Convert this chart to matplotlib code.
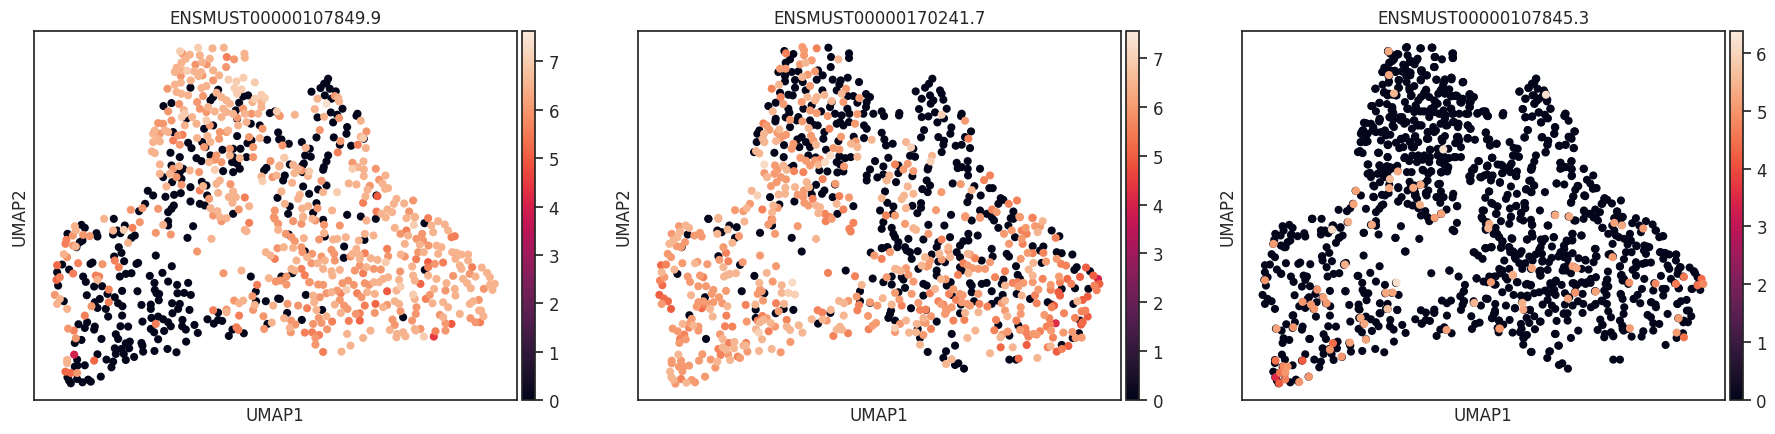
#!/usr/bin/env python3
"""UMAP feature plots for three transcripts (scanpy look)."""
import numpy as np
import matplotlib
matplotlib.use('Agg')
import matplotlib.pyplot as plt
import seaborn as sns

plt.rcParams['font.family'] = ['DejaVu Sans']
plt.rcParams['text.color'] = '.15'
plt.rcParams['axes.labelcolor'] = '.15'
plt.rcParams['axes.edgecolor'] = '.15'
plt.rcParams['xtick.color'] = '.15'
plt.rcParams['ytick.color'] = '.15'

TITLES = ['ENSMUST00000107849.9', 'ENSMUST00000170241.7', 'ENSMUST00000107845.3']
VMAX = [7.63, 7.55, 6.38]
CBAR_TICKS = [range(8), range(8), range(7)]

# embedding units, y axis runs downwards
# (umap1, umap2, expression) for expressing cells, (umap1, umap2) for zero cells
P1_ON_UPPER = [
 (439,158,7),(493,147,7),(536,149,6.5),(570,147,6.5),(632,165,6.5),(633,177,6.5),(579,175,5.6),(601,182,6),(577,205,6),
 (468,168,6.5),(446,165,6),(498,170,6.5),(456,180,6.5),(443,192,6.5),(428,207,6.5),(423,220,6.5),(505,190,6.5),(528,180,6.5),
 (519,197,6),(485,198,6),(446,215,6.5),(460,216,7),(481,218,6.5),(502,220,6.5),(538,215,6.5),(556,230,6.5),(538,245,6),
 (441,232,6),(506,230,6),(494,232,6.5),(471,245,6.5),(441,252,6.5),(423,258,6.5),(401,270,6),(428,280,6.5),(518,262,6.5),
 (503,268,6.5),(584,243,7),(608,248,7),(629,237,7),(663,251,7),(602,268,7),(623,272,7),(610,285,7),(683,288,7),(663,300,7),
 (693,298,7),(683,310,6.5),(683,325,6.5),(656,310,6.5),(443,285,6.5),(463,290,6.5),(508,292,6),(548,282,6.5),(563,295,6.5),
 (578,305,6.5),(588,315,6.5),(568,330,6.5),(578,340,6.5),(563,355,6.5),(543,338,6.5),(490,310,6),(498,330,6),(523,325,6.5),
 (518,340,6),(436,316,6),(450,334,6.5),(403,338,6),(444,355,7),(453,345,7),(475,355,6.5),(488,375,6.5),(413,365,6),(453,380,6.5),
 (518,365,7),(528,380,6),(598,345,6.5),(633,345,6.5),(653,345,6),(673,345,6.5),(736,350,6),(729,338,7),(628,330,6),(638,370,6.5),
 (613,380,6.5),(610,357,6),(558,400,6),(578,400,6),(388,375,6),(373,373,6),(363,395,6.5),(358,405,6.5),(393,395,6.5),(378,405,6),
 (403,400,6.5),(373,420,6.5),(358,430,6.5),(378,428,6.5),(418,425,5.6),(433,410,6),(446,408,5.6),(438,438,6),(490,418,6.5),
 (521,412,6.5),(530,430,6.5),(556,420,6),(646,415,6),(678,418,6.5),(686,390,6),(583,395,6.5),(588,450,6),(588,470,6.5),(618,478,6.5),
 (658,445,6),(658,475,6),(354,458,6.5),(363,463,6.5),(511,445,6),(378,497,6.5),(436,502,6.5),(418,510,6),(526,490,6.5),(543,483,6),
 (563,490,6),(543,513,7),(548,470,6),(751,477,7),(710,487,6),(736,503,6.5),(728,530,6.5),(716,535,6),(683,533,6.5),(686,547,7),
 (378,525,6.5),(408,525,6.5),(428,535,6),(496,520,6),(468,515,6.5),(398,563,6.5),(443,558,6),(558,545,6.5),(548,555,6.5),(590,556,6),
 (508,562,6.5),(498,575,5.6),(553,582,6.5),(598,578,6.5),(633,596,5.6),(526,600,6),(585,595,6.5),(606,595,6.5),(596,612,6.5),
 (646,622,6.5),(615,632,6),(551,637,6.5),(530,628,6.5),(291,633,6),(326,628,6),(373,630,6),(723,635,6),(538,650,6),(558,655,6.5),
]
P1_ON_RIGHT = [
 (851,300,6.5),(913,297,6.5),(903,292,6),(916,308,6.5),(843,331,6.5),(878,315,7.4),(871,354,6.5),(783,348,6.5),(738,352,6),(916,358,6),
 (981,366,6.5),(858,394,6),(998,398,6),(981,414,6.5),(988,418,7),(920,427,6),(996,448,6.5),(972,438,5.6),(912,461,5.6),(746,440,6),
 (816,447,6.5),(752,477,7),(738,500,6.5),(778,498,6.5),(793,510,6.5),(803,515,6),(782,523,6.5),(826,518,7),(823,532,6.5),(956,492,6),
 (972,505,6.5),(956,510,7),(989,488,6.5),(990,512,6.5),(990,532,6.5),(1026,510,6),(1055,530,6.5),(1036,543,6),(1046,554,6.5),
 (945,554,6.5),(968,557,6.5),(1008,561,6),(1001,573,6.5),(1054,570,6.5),(1063,568,6.5),(995,593,6.5),(775,552,6.5),(863,546,6),
 (868,580,6.5),(910,580,7),(743,578,6.5),(798,588,6.5),(793,600,6.5),(1031,592,5),(988,612,5.6),(1088,600,6.5),(1080,615,6.5),
 (1111,614,6.5),(1138,605,6),(753,615,6.5),(823,622,6.5),(805,629,6.5),(851,628,6),(895,635,6.5),(1061,632,6.5),(1075,640,6.5),
 (1126,638,6),(1028,638,5.6),(1043,645,6.5),(808,653,6.5),(1056,656,6.5),(1118,658,6.5),(1143,654,6.5),(1183,658,5.6),(998,665,6.5),
]
P1_ON_LOWER_RIGHT = [
 (1213,667,6.5),(1233,677,6.5),(1243,695,6.5),(778,667,6),(808,655,6.5),(836,660,6.5),(845,665,6),(871,678,6),(918,680,6),(803,675,6),
 (756,705,6),(773,715,6),(783,727,6),(810,718,6.5),(856,722,6),(871,703,6.5),(898,722,6.5),(910,720,6.5),(936,715,6.5),(975,725,6.5),
 (993,705,6.5),(1019,710,6.5),(1083,687,6.5),(1100,705,6),(1118,695,5.6),(1123,710,6.5),(1113,735,6.5),(1140,678,7),(1143,655,6),
 (1165,705,6),(1148,720,6),(1168,725,6),(1158,737,6.5),(1153,760,6),(1170,760,6.5),(1184,740,6),(1208,740,6.5),(1223,745,6.5),
 (1213,765,6.5),(1253,715,5.6),(1263,712,5.6),(1193,680,6.5),(1198,700,6.5),(1255,760,6.5),(1268,762,6.5),(1283,767,6.5),(1303,767,6.5),
 (1265,780,6.5),(1278,800,6.5),(1283,810,6.5),(1303,785,6.5),(1315,805,5.6),(1308,825,6),(1325,833,6.5),(1344,806,6.5),(1360,822,6.5),
 (1368,835,6.5),(1383,855,6.5),(1368,858,6.5),(1376,873,6.5),(1350,870,6),(1288,840,6.5),(1300,853,6.5),(1311,868,6.5),(1258,831,6),
 (1238,853,6.5),(1263,870,6.5),(1265,890,6.5),(1235,875,6),(1208,840,6.5),(1201,870,6.5),(1188,888,6),(1176,900,5.6),(1143,900,6.5),
 (1138,887,7),(1148,925,6),(1146,945,6),(1196,913,6.5),(1228,910,6.5),(1243,925,6.5),(1308,915,6.5),(1318,907,6.5),(1335,903,6),
 (1336,935,6.5),(1342,935,6.5),(1349,952,6.5),(1310,958,6),(1278,945,6.5),(1325,970,6),(1339,970,5.6),(1218,948,6),(1228,955,6.5),
 (1235,973,6),(1253,975,5),(1235,995,6),(1205,997,5.6),(1200,1013,4.5),(1170,1013,7),(1160,990,6),(1143,990,6.5),(1135,965,6),
 (1146,995,6.5),(1108,1000,6.5),(1090,1005,6.5),(1088,1015,6.5),(1115,1012,6.5),(1068,993,6.5),(1083,978,6),(1076,962,6),(1100,937,6),
 (1048,925,6.5),(1060,918,6),(1083,907,6.5),(1096,915,6.5),(1088,875,6.5),(1060,877,5),(1100,863,7),(1096,843,6.5),(1063,835,6.5),
 (1048,840,6.5),(1036,850,6.5),(1020,850,6.5),(1006,858,6),(993,853,6),(1000,880,6.5),(1023,885,6.5),(970,883,5.6),(983,895,6),
 (993,920,5.6),(1025,915,5.2),(1023,942,6),(978,943,5.6),(966,945,6),(978,965,5.2),(945,966,5.6),(1010,995,6.5),(988,1017,6.5),
 (940,1005,6.5),(950,1040,6.5),(923,1058,6.5),(895,968,5.6),(880,991,6),(878,952,6.5),(863,972,6),(855,957,6),(838,975,6),
 (856,1008,5.6),(845,1017,6),(845,1037,6),(868,1059,5.6),(835,1000,5.6),(813,1001,5.6),(771,1000,6),(768,987,6.5),(785,977,6),
 (772,965,6),(751,958,6.5),(820,928,5.6),(793,920,6),(761,915,6),(848,933,6.5),(858,895,6),(853,857,6),(868,858,6),(841,910,6.5),
 (826,850,6),(838,890,6.5),(893,880,6.5),(878,883,6),(910,875,6),(921,883,5.6),(903,917,6.5),(918,903,6),(938,873,7),(926,853,6),
 (943,845,6),(960,858,6),(931,920,6),(941,930,6),(921,942,6.5),(978,800,6),(998,805,6.5),(963,815,6),(988,823,5.6),(1020,810,6),
 (1041,812,6),(978,770,6.5),(968,750,6.5),(978,780,6.5),(993,763,5.6),(1011,778,6.5),(1031,783,6.5),(1056,790,7),(1060,750,5.6),
 (1063,772,6),(1101,767,6.5),(1113,773,6),(1147,781,5.6),(1135,803,6.5),(1099,818,6),(1183,790,5),(1203,795,6),(1228,791,5.6),
 (1183,805,5.6),(1183,830,6.5),(1138,830,6.5),(1143,845,6.5),(1160,855,5.2),(803,810,5.6),(773,810,6.5),(783,815,6.5),(813,829,5.6),
 (828,850,6),(758,833,6),(740,845,6),(758,857,6),(893,753,6),(901,765,6),(903,785,6),(873,785,6.5),(863,773,6),(835,765,6),
 (851,793,6.5),(820,775,6.5),(833,793,6),(868,810,6.5),(893,817,6.5),(918,813,6.5),(896,830,6.5),(750,745,6.5),(778,747,6.5),
 (803,745,6),(806,760,6),(788,785,6.5),(950,773,6),(956,765,6.5),
]
P1_ON_LOWER_LEFT = [
 (211,660,6.5),(318,670,6),(123,682,6.5),(126,695,6.5),(238,695,6.5),(270,693,7),(296,687,5.6),(388,678,6.5),(366,702,6),(411,707,6),
 (117,710,6),(148,708,6),(168,712,6),(98,723,5.6),(95,735,5.6),(118,740,6),(126,743,6.5),(283,732,6.5),(533,720,6.5),(490,758,6),
 (90,766,6.5),(100,775,6),(243,785,5.6),(255,805,5.6),(133,793,5.6),(70,799,5.2),(206,796,6),(118,824,5.6),(186,830,5.6),(196,833,5.6),
 (191,843,6.5),(78,835,5.6),(68,843,5.2),(569,823,6),(623,815,6.5),(696,760,6.5),(710,770,6.5),(723,780,5.6),(731,748,6),(705,838,6.5),
 (726,848,6),(63,888,6),(78,900,6.5),(70,915,6.5),(100,930,6.5),(225,872,5.6),(225,910,5.6),(173,922,6),(670,858,5.6),(656,892,6),
 (601,905,6),(628,905,6.5),(616,913,6.5),(663,918,6.5),(658,933,6),(718,920,6.5),(538,934,5.6),(578,932,6),(578,940,6.5),(616,950,5.6),
 (689,952,6),(714,971,6.5),(691,990,6),(153,950,5.6),(366,975,5.6),(103,989,6),(120,995,5.6),(126,1018,6),(608,985,5.6),(614,993,5.6),
 (121,1067,4),(181,1085,5.2),(100,1083,6.5),(100,1092,6.5),(95,1118,5.2),(111,1122,5.2),(130,1122,6),(633,693,6.5),(638,697,6.5),
 (646,672,5.6),(723,660,6),(720,655,6),(563,667,6),(578,658,6.5),(733,693,6.5),(733,675,6),
]
P1_OFF = [
 (470,267),(389,322),(413,313),(553,273),(538,295),(530,305),(628,293),(643,290),(616,312),(606,335),(610,360),(708,343),(723,338),
 (458,360),(511,390),(538,380),(651,375),(678,380),(418,400),(733,401),(736,422),(700,423),(610,412),(463,432),(505,430),(515,445),
 (473,448),(641,433),(653,425),(566,453),(598,450),(620,450),(410,462),(438,475),(488,478),(503,487),(530,470),(638,475),(598,475),
 (595,490),(610,495),(618,510),(598,520),(568,517),(413,500),(448,510),(438,520),(428,513),(698,507),(691,515),(388,535),(415,550),
 (443,540),(470,565),(504,549),(518,560),(342,576),(358,590),(395,594),(421,588),(441,583),(520,590),(470,608),(498,615),(513,620),
 (731,597),(334,615),(316,637),(403,640),(420,620),(413,630),(598,645),
 (883,240),(878,252),(871,255),(860,268),(833,279),(888,270),(906,278),(873,290),(893,300),(926,330),(891,341),(910,348),(971,345),
 (968,351),(851,356),(898,371),(940,385),(938,405),(848,416),(900,416),(990,420),(804,430),(828,450),(918,438),(952,441),(765,435),
 (743,422),(814,470),(831,474),(883,470),(878,488),(870,505),(868,513),(810,494),(806,500),(768,497),(806,520),(748,545),(753,530),
 (808,563),(878,560),(853,572),(826,585),(1028,590),(848,613),(768,623),(763,645),(838,642),(940,648),(981,653),(868,663),(1026,660),
 (1172,673),(765,707),(873,713),(992,723),(931,743),(813,757),(930,777),(1173,813),(776,823),(743,833),(816,888),(738,900),(760,942),
 (865,933),(804,963),(1108,955),
 (240,660),(143,678),(153,687),(273,680),(101,705),(188,703),(191,713),(238,707),(250,695),(260,703),(293,717),(303,710),(146,725),
 (138,730),(128,745),(478,682),(461,717),(403,667),(403,680),(255,745),(263,762),(241,773),(271,787),(366,770),(414,802),(308,795),
 (313,792),(176,791),(170,795),(85,797),(70,820),(106,812),(293,823),(276,825),(258,833),(386,822),(348,831),(148,833),(156,849),
 (362,852),(403,848),(430,858),(463,852),(73,860),(181,863),(205,862),(265,876),(311,877),(363,873),(376,885),(368,883),(431,883),
 (451,882),(471,888),(159,889),(221,885),(243,895),(90,907),(198,900),(183,910),(253,913),(266,922),(375,904),(415,913),(438,915),
 (323,918),(351,917),(351,930),(191,927),(216,930),(433,930),(416,943),(467,933),(265,950),(223,953),(353,957),(373,953),(388,961),
 (403,970),(411,982),(326,968),(446,963),(445,982),(456,992),(482,978),(492,1002),(521,961),(540,974),(553,941),(553,963),(565,966),
 (260,982),(283,983),(134,976),(160,970),(153,987),(183,983),(181,992),(351,990),(361,1000),(391,996),(246,1006),(253,1020),(203,1020),
 (373,1021),(457,1028),(143,1023),(123,1032),(596,992),(585,1011),(630,1003),(276,1033),(288,1028),(323,1032),(326,1040),(243,1048),
 (263,1050),(286,1048),(328,1058),(362,1056),(401,1050),(428,1060),(246,1065),(270,1065),(191,1066),(301,1074),(276,1083),(218,1082),
 (238,1088),(233,1105),(130,1082),(131,1100),(153,1099),(123,1103),(201,1133),(101,1135),(106,1145),(111,1153),(130,1140),(146,1150),
 (163,1142),(171,1148),(651,833),(666,878),(667,907),(696,907),(733,899),(701,975),(746,835),
]

P2_ON_LEFT = [
 (494,145,6),(499,155,6),(445,164,5.6),(537,149,5.6),(499,170,6),(602,182,6.5),(522,185,6),(504,192,6.5),(487,197,6),(427,210,6),
 (444,210,6),(532,218,6),(494,235,6.5),(510,228,6),(517,262,6),(402,270,5.6),(424,258,6.5),(625,270,6),(612,285,6.5),(560,289,6.5),
 (509,295,6.5),(537,295,6.5),(532,305,6.5),(582,307,6.5),(617,310,6),(665,298,6),(429,295,5.6),(437,316,6),(492,310,6),(405,338,6.5),
 (517,335,6),(537,343,6),(570,352,6),(659,346,6),(457,363,6),(494,368,6),(377,374,5.6),(387,380,6),(395,393,6),(652,375,6),(575,390,5.6),
 (513,388,6.5),(425,392,6.5),(445,408,6),(435,412,6),(427,418,6),(419,402,6),(379,405,6.5),(375,420,6.5),(380,430,6.5),(415,427,6.5),
 (520,411,6),(535,438,6.5),(527,425,6),(610,414,6),(702,423,6.5),(654,428,6),(640,435,6.5),(659,445,6.5),(467,435,6),(462,450,6),
 (587,448,6),(605,452,6),(355,457,6.5),(365,464,6.5),(659,474,6.5),(577,470,7.2),(488,477,6),(505,486,6),(532,485,6),(547,482,5.6),
 (542,498,6.5),(562,490,7.2),(517,500,6),(380,497,7.2),(412,500,6),(437,500,6.5),(447,513,6.5),(419,513,6),(410,525,6),(469,517,5.6),
 (497,520,5.6),(619,503,6),(380,523,6),(388,535,6.5),(430,535,6),(445,542,6),(417,550,6),(400,562,6),(443,567,6.5),(555,541,5.6),
 (593,555,6),(507,550,6.5),(514,565,6.5),(472,565,6.5),(442,585,6.5),(423,587,6.5),(342,576,6.5),(359,590,7),(499,575,6),(480,588,6),
 (497,595,6),(525,600,5.6),(500,612,6),(512,620,6),(535,620,6.5),(547,625,6.5),(605,592,5.6),(634,596,6),(597,615,6.5),(407,620,6.5),
 (420,627,6),(337,615,6),(327,628,6.5),(292,634,6),(317,637,6),(374,632,5.6),(403,641,6.5),(617,632,5.6),(542,643,6.5),(562,645,5.6),
 (577,655,5.6),(402,660,5.6),(242,657,6.5),
]
P2_ON_RIGHT = [
 (912,348,7),(982,366,6),(992,420,5.6),(805,430,6.5),(820,446,7),(883,471,6.5),(879,488,7),(772,497,5.6),(810,495,6),(797,512,6),
 (827,517,6),(755,530,6.5),(747,545,6.5),(810,563,6.5),(827,585,6.5),(799,590,6.5),(792,601,6.5),(732,598,6.5),(911,580,6),(969,556,6),
 (1002,574,6.5),(1057,530,5.6),(1039,544,5.6),(1138,605,5.6),(1113,615,5.6),(1063,632,5.6),(1077,640,6),(805,628,6.5),(895,634,6),
 (983,652,6),(745,650,5.6),(1027,655,6),(1145,654,6),(1185,657,5.6),
 (1184,657,5.6),(1215,667,6.5),(1147,655,6),(1192,682,6),(1207,683,6),(1200,700,6.5),(1164,687,6),(1122,695,6),(1099,705,6),
 (1167,705,5.6),(1152,720,6),(1155,735,5.6),(1114,735,6),(1254,717,5.6),(1185,763,5.6),(1170,762,6),(1217,762,5.6),(1149,780,6),
 (1187,792,6.5),(1173,812,6.5),(1225,788,6),(1257,780,6),(1270,795,5.6),(1285,800,5.6),(1327,834,5),(1345,806,5),(1289,840,5.2),
 (1301,855,5.6),(1367,830,5),(1381,840,4),(1385,855,5),(1370,860,5.6),(1377,874,5.6),(1350,893,5),(1335,903,5),(1319,907,6.5),
 (1215,840,5.6),(1185,830,6.5),(1185,850,6),(1157,852,6),(1140,850,5.6),(1125,852,5.6),(1142,863,6),(1102,860,6.5),(1072,835,5.6),
 (1264,833,6),(1239,858,6),(1267,850,5.6),(1239,873,5.6),(1202,872,6),(1192,889,5.6),(1267,890,5),(1262,880,5),(1152,890,6.5),
 (1149,925,6),(1149,945,6),(1242,925,5.6),(1249,920,5),(1197,913,5.6),(1109,952,6.5),(1102,935,6),(1075,963,5.6),(1070,994,5.6),
 (1136,965,5.6),(1147,993,6),(1163,988,5.6),(1172,1013,5.6),(1165,1000,5.6),(1187,1005,6),(1207,997,5.6),(1197,1007,6),(1220,948,6),
 (1235,958,5.6),(1254,973,4.2),(1237,977,5.6),(1227,983,5.6),(1240,995,6),(1279,943,5.6),(1312,957,5.6),(1332,937,5.6),(1343,935,5.6),
 (1350,953,5),(1335,970,5.2),(1330,977,5),(1304,999,6),(1277,1001,6),(1246,1016,5.6),(1332,1016,6),(1314,1017,6),(1110,998,6),
 (1088,1015,6.5),(1094,1007,6),(1089,1045,5.2),(1125,1045,6.5),(1167,1038,5),(1057,1063,6.5),(1199,1077,6.5),(1143,1079,5.2),
 (1230,1045,5.6),(1239,1042,6.5),(1257,1058,5),(1273,1050,5.6),(1292,1041,5),(1022,885,6),(1025,915,5.6),(1049,923,5.6),(1102,905,6.5),
 (1092,913,6),(1022,940,6.5),(982,942,6.5),(980,963,5.6),(1013,995,6.5),(989,1017,6.5),(942,1081,6.5),(925,1095,6.5),(847,1037,6.5),
 (857,1008,6),(880,990,5.6),(814,1001,6.5),(835,1000,6.5),(772,987,7),(772,999,6),(787,975,6),(805,965,6.5),(837,975,6.5),(857,957,6.5),
 (880,952,6),(857,970,6),(864,972,6),(922,945,6),(925,930,6),(942,925,6),(910,915,6),(902,907,5.6),(917,917,5.6),(927,935,5.6),
 (947,965,5.6),(967,885,6),(975,889,6),(955,903,5.6),(989,915,6),(997,920,6),(972,910,6),(947,871,6),(934,885,5.6),(910,841,6.5),
 (924,841,6),(961,828,5.6),(877,883,5.6),(892,870,6.5),(822,885,6),(827,848,6),(812,828,6),(772,882,6),(785,902,6),(792,920,5.6),
 (842,912,6),(847,933,5.6),(864,932,5.6),(762,917,6.5),(735,898,6.5),(747,835,6),(772,810,6.5),(779,812,6.5),(805,808,6),(789,817,6.5),
 (852,800,6.5),(867,803,6),(862,775,6.5),(877,785,6),(872,800,6),(905,765,6.5),(932,745,6.5),(937,775,6.5),(932,755,6),(912,782,6),
 (990,765,6.5),(997,767,6),(1012,778,5.6),(992,823,6.5),(1004,808,6),(1022,810,6),(1042,810,6),(977,793,5.6),(990,800,6),(1057,790,6),
 (1102,817,5.6),(912,722,5.6),(872,705,6),(827,688,6.5),(835,693,6.5),(802,675,6),(772,650,6),(757,760,6),(732,780,5.6),(982,655,6),
 (1027,657,6),(1152,695,5.6),
]
P2_ON_LOWER_LEFT = [
 (242,660,6.5),(320,668,6.5),(404,665,6),(392,677,6),(480,682,6),(144,680,6.5),(154,687,6.5),(124,682,6),(127,698,6.5),(102,705,6),
 (170,710,6),(187,702,6),(192,713,6),(119,715,6.5),(107,725,6.5),(95,735,6.5),(142,730,6),(117,742,6),(130,745,6),(239,705,6.5),
 (270,692,6.5),(304,712,6),(284,732,6.5),(412,705,6),(535,720,6.5),(564,667,5.6),(582,660,6),(647,672,5.6),(635,690,5.6),(639,698,5.6),
 (257,745,6),(265,762,5.6),(90,765,6),(100,775,6),(367,770,6),(245,783,6),(272,787,5.6),(134,793,6),(172,793,6.5),(179,789,6),(209,796,6),
 (315,790,6),(70,799,5.2),(85,797,5.6),(257,805,6.5),(110,812,6.5),(72,820,6.5),(295,823,6.5),(277,825,6.5),(269,828,6.5),(259,833,6.5),
 (150,833,6),(157,849,6),(187,830,6),(197,835,5.6),(415,802,6),(387,822,6.5),(571,822,5.6),(652,832,5.6),(672,858,6.5),(67,845,5.6),
 (80,835,6),(74,859,5.2),(182,862,6),(205,862,6),(227,873,6),(222,885,6),(365,852,6.5),(405,848,6),(432,859,6.5),(464,851,7.2),(367,872,6),
 (372,877,6),(360,885,6),(432,882,6.5),(452,882,7),(472,887,7),(265,876,6),(244,895,6),(160,889,6.5),(65,888,5),(79,899,5.2),(91,907,5.2),
 (72,915,6),(100,930,5),(182,910,6),(177,923,6),(197,907,6),(215,915,6),(227,910,6),(202,917,5.6),(192,928,5.2),(217,930,6.5),(254,913,6),
 (269,922,6.5),(376,905,6),(324,918,5.6),(353,917,6.5),(415,913,5.6),(439,915,6.5),(423,937,6),(225,953,6.5),(266,950,5.6),(162,960,6),
 (157,973,6),(167,980,6.5),(182,983,6),(182,995,6),(154,986,5.6),(135,975,6.5),(105,989,6),(120,997,6),(140,1007,5.6),(127,1020,5.6),
 (144,1021,6),(125,1032,6),(262,982,5.6),(284,983,5.6),(327,968,6),(360,965,5.6),(374,951,5.6),(387,958,6),(367,970,6.5),(377,963,6.5),
 (399,972,6.5),(447,963,5.6),(412,983,6),(393,997,5.6),(355,991,6.5),(363,1001,7),(373,1021,6.5),(447,983,6.5),(457,993,6.5),(483,979,6.5),
 (494,1001,6.5),(458,1029,6),(247,1006,6),(255,1020,6.5),(273,1032,5.6),(290,1029,6.5),(289,1048,6.5),(325,1032,5.6),(324,1040,6.5),
 (317,1040,6.5),(329,1058,6),(242,1050,5.6),(255,1045,6.5),(265,1052,6.5),(249,1068,5.6),(271,1066,6),(300,1073,5.6),(307,1077,6),
 (277,1083,6.5),(194,1066,6),(184,1085,6),(219,1082,6),(239,1088,6.5),(233,1106,6),(364,1056,6.5),(402,1050,6.5),(429,1060,6),
 (122,1067,6.5),(102,1085,6),(102,1093,6),(130,1085,6),(124,1103,6),(137,1103,6),(154,1100,6),(134,1117,6),(97,1118,6.5),(101,1135,6.5),
 (107,1142,6.5),(113,1154,6),(130,1140,5.6),(146,1151,6.5),(162,1143,6),(172,1150,6),(202,1133,6),(522,961,6.5),(540,934,5.6),(554,941,5.6),
 (579,933,6.5),(555,962,6.5),(567,965,6),(604,906,6.5),(619,913,6.5),(632,906,6),(618,950,6.5),(657,893,6),(664,918,5.6),(659,934,5.6),
 (697,910,6),(719,920,6),(691,951,6),(715,972,6),(705,980,6),(693,991,5.6),(597,992,6.5),(607,983,6.5),(613,992,6.5),(631,1003,5.6),
 (587,1011,5.6),(710,770,6),
]
P2_OFF = [
 (440,157),(467,166),(572,147),(580,175),(634,164),(634,178),(457,182),(444,192),(579,205),(422,220),(447,220),(462,220),(482,218),
 (442,232),(442,248),(472,244),(541,215),(555,230),(537,243),(585,243),(630,237),(609,245),(605,257),(664,250),(472,267),(495,250),
 (504,275),(427,282),(452,288),(465,290),(554,275),(597,275),(630,292),(647,292),(685,286),(697,295),(687,310),(685,325),(414,312),
 (392,322),(452,330),(455,342),(497,330),(522,320),(550,338),(577,325),(582,310),(592,345),(629,330),(635,345),(659,312),(677,345),
 (707,345),(414,360),(413,368),(444,356),(457,385),(482,355),(477,365),(517,365),(527,378),(540,380),(612,350),(607,370),(597,375),
 (617,380),(634,370),(679,380),(687,390),(365,395),(359,405),(357,430),(439,439),(485,445),(517,445),(492,415),(479,422),(505,430),
 (560,400),(557,420),(602,427),(648,414),(679,418),(349,460),(410,462),(438,475),(565,453),(512,470),(534,476),(605,472),(622,478),
 (597,490),(607,497),(639,475),(467,501),(459,507),(545,515),(569,518),(599,521),(617,518),(712,487),(697,512),(687,530),(687,545),
 (719,536),(535,558),(517,570),(560,575),(553,585),(592,557),(522,587),(397,595),(470,608),(585,595),(425,617),(647,622),(599,645),(212,660),
 (884,240),(874,255),(862,267),(834,278),(877,290),(907,275),(912,285),(852,300),(917,303),(887,305),(879,315),(927,330),(844,331),(892,341),
 (852,355),(872,353),(919,359),(899,371),(972,345),(970,352),(785,343),(784,350),(732,338),(739,352),(859,394),(941,386),(938,405),(1000,398),
 (850,416),(902,415),(732,402),(740,422),(745,440),(765,435),(919,426),(917,438),(954,441),(972,438),(997,448),(982,415),(827,450),(912,460),
 (817,471),(832,474),(752,477),(990,487),(957,492),(960,508),(972,505),(990,510),(872,505),(870,512),(782,500),(737,503),(1027,510),
 (737,527),(782,523),(824,532),(991,530),(867,545),(877,560),(775,550),(945,554),(1010,562),(854,571),(870,580),(742,578),(1029,590),(1055,568),
 (1065,568),(995,593),(989,610),(1089,598),(1097,603),(1082,615),(749,612),(767,623),(824,621),(850,613),(850,627),(839,643),(727,635),
 (765,645),(940,648),(1027,635),(1047,645),(1062,655),(1127,638),(1119,658),
 (737,670),(732,690),(762,687),(767,705),(772,715),(782,730),(812,720),(857,722),(920,680),(872,678),(937,715),(992,705),(1020,710),(992,725),
 (1082,687),(1002,665),(1069,665),(1127,660),(1112,680),(1132,715),(1242,695),(1265,712),(1185,742),(1217,743),(1207,755),(732,748),(749,745),
 (779,745),(802,745),(817,760),(840,757),(807,755),(822,780),(897,745),(902,730),(882,767),(977,727),(967,740),(957,760),(967,775),(922,790),
 (902,788),(1032,785),(1065,773),(1062,750),(1107,765),(1114,773),(1135,802),(1212,792),(1257,760),(1272,763),(1304,767),(1317,805),(1357,817),
 (1310,813),(967,805),(972,815),(897,815),(897,830),(842,810),(762,833),(792,835),(797,842),(1140,828),(1147,840),(1097,842),(1092,855),(997,853),
 (1002,860),(1047,852),(1032,855),(857,855),(867,860),(927,860),(939,850),(762,857),(737,850),(802,867),(782,880),(857,890),(942,888),(1002,880),
 (1062,877),(1095,888),(1137,885),(1177,900),(1080,905),(1062,915),(1009,907),(970,917),(1230,910),(1272,870),(1312,868),(1352,870),(1307,915),
 (760,935),(757,945),(820,928),(752,957),(772,965),(865,933),(967,943),(897,968),(1082,978),(1142,980),(840,990),(942,1005),(847,1017),(1115,1010),
 (1305,1017),(1324,1003),(1327,965),(952,1040),(925,1057),(870,1059),(917,1077),(962,1093),(952,1098),(979,1109),(1115,1082),(1135,1082),(1272,1038),
 (1242,917),
 (212,660),(275,680),(297,685),(239,695),(252,700),(150,707),(292,717),(367,702),(462,717),(403,680),(492,758),(132,745),(242,772),(307,798),
 (119,825),(350,831),(312,877),(380,883),(624,815),(705,839),(202,895),(354,932),(438,930),(467,933),(414,943),(155,949),(354,957),(541,974),
 (578,942),(667,877),(667,907),(697,912),(205,1020),(699,761),(733,748),(749,745),
]

P3_ON = [
 (441,158,5.3),(442,229,5.3),(457,284,5.5),(605,452,6.2),(469,518,5.3),(445,541,5.6),(443,568,5.3),(537,558,5.3),(515,567,5.3),(343,576,5.2),
 (336,616,5.2),(535,618,5.4),(599,645,5.2),(579,657,5.1),(320,669,5.4),(391,678,5.3),(271,692,6.1),(743,675,5.3),(740,688,5.5),(96,735,5.1),
 (310,797,5.4),(70,844,5),(465,851,6.2),(748,850,5.1),(814,828,5.2),(227,872,5),(245,895,5.2),(183,909,5),(255,913,5),(208,917,5),(218,930,5),
 (433,882,5.3),(453,881,5.2),(438,930,5.7),(698,912,5.5),(357,957,5.3),(368,975,5.3),(105,989,5.2),(155,985,5),(615,993,5.2),(773,989,5),
 (373,1022,5.2),(325,1031,5.2),(274,1033,4.4),(265,1052,5),(300,1073,5),(102,1085,4.5),(183,1085,4.2),(125,1102,4.8),(138,1103,5),(115,1121,4.5),
 (131,1121,5),(102,1135,3.5),(131,1141,4.7),(113,1153,4.2),(173,1149,5),(202,1133,5),
 (913,288,6.2),(941,649,5.3),(983,653,5.3),
 (1118,672,5.2),(1141,680,5.3),(1205,689,5.1),(1113,775,5.1),(871,808,5.2),(993,802,5.2),(1005,808,5.3),(813,829,5.4),(1327,834,4.6),(1380,840,4.4),
 (1368,859,4.5),(1385,855,4.8),(1163,851,4.9),(1242,854,4.8),(1303,855,4.6),(1062,878,5.2),(1001,881,5),(979,899,5.2),(842,912,5.4),(845,932,5.3),
 (1311,958,5.1),(1165,988,5.1),(1305,1001,5.1),(1327,1015,4.5),(775,989,5),
]
# cells hidden under others in the first two panels
P3_OFF_EXTRA = [
 (496,145),(538,149),(572,147),(581,175),(634,165),(634,178),(505,185),(470,167),(452,187),(490,205),(525,185),(540,220),(427,217),(507,222),
 (578,205),(610,242),(630,242),(665,250),(402,270),(438,290),(472,244),(470,268),(510,290),(548,288),(590,285),(640,292),(687,296),(392,322),
 (452,325),(500,330),(535,338),(570,335),(605,345),(632,345),(680,345),(415,362),(455,362),(495,370),(530,380),(575,385),(613,378),(649,385),
 (367,372),(395,385),(430,395),(360,400),(372,430),(440,437),(478,420),(520,415),(560,420),(600,420),(650,415),(678,420),(355,457),(412,462),
 (490,475),(530,480),(565,475),(600,485),(620,505),(643,475),(380,497),(415,500),(445,505),(385,522),(420,525),(470,568),(510,520),(560,525),
 (600,520),(395,560),(430,590),(480,595),(520,580),(555,590),(595,555),(635,585),
]


def rows(on, off):
    """Turn the cell tables into sorted x, y, colour arrays, highest on top."""
    off = np.array(off, dtype=float)
    on = np.array(on, dtype=float)
    x = np.concatenate([off[:, 0], on[:, 0]])
    y = np.concatenate([off[:, 1], on[:, 1]])
    c = np.concatenate([np.zeros(len(off)), on[:, 2]])
    order = np.argsort(c, kind='stable')
    return x[order], y[order], c[order]


p1_on = P1_ON_UPPER + P1_ON_RIGHT + P1_ON_LOWER_RIGHT + P1_ON_LOWER_LEFT
p2_on = P2_ON_LEFT + P2_ON_RIGHT + P2_ON_LOWER_LEFT
p1_all = [r[:2] for r in p1_on] + P1_OFF
panels = [rows(p1_on, P1_OFF), rows(p2_on, P2_OFF), rows(P3_ON, p1_all + P2_OFF + P3_OFF_EXTRA)]

W, H = 1775, 435
fig = plt.figure(figsize=(W / 100, H / 100), dpi=100, facecolor='white')
cmap = sns.color_palette('rocket', as_cmap=True)

for i, (x, y, c) in enumerate(panels):
    left = 33.8 + 603.9 * i
    ax = fig.add_axes([left / W, 1 - 401 / H, 483 / W, 369 / H])
    sc = ax.scatter(x, y, c=c, s=34, cmap=cmap, vmin=0, vmax=VMAX[i], linewidths=0)
    ax.set_xlim(0, 1449)
    ax.set_ylim(1203, 97)
    ax.set_xticks([])
    ax.set_yticks([])
    ax.set_xlabel('UMAP1', fontsize=12, labelpad=4)
    ax.set_ylabel('UMAP2', fontsize=12, labelpad=4)
    ax.set_title(TITLES[i], fontsize=12, pad=6)
    for s in ax.spines.values():
        s.set_linewidth(1.25)
    cax = fig.add_axes([(left + 488.5) / W, 1 - 401 / H, 13 / W, 369 / H])
    cb = fig.colorbar(sc, cax=cax)
    cb.set_ticks(list(CBAR_TICKS[i]))
    cb.ax.tick_params(labelsize=12, length=6, width=1.25, color='.15')
    cb.outline.set_linewidth(1.25)

fig.savefig('out.png', dpi=100, facecolor='white')
